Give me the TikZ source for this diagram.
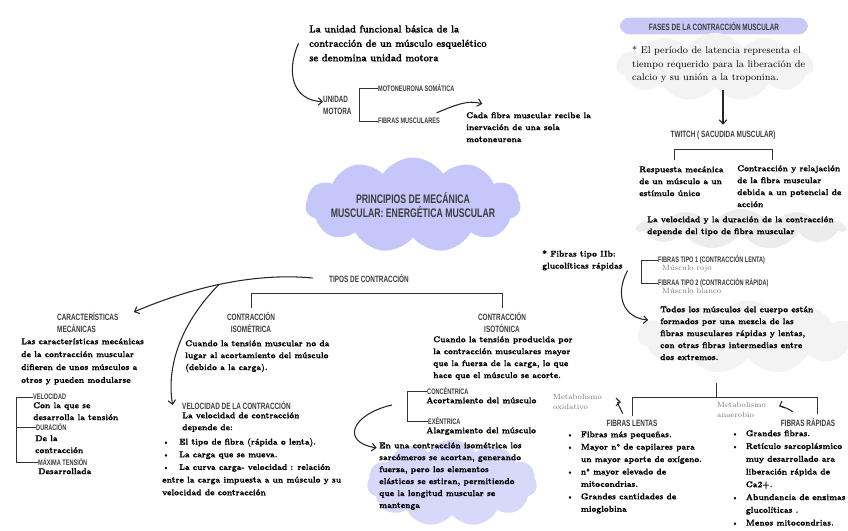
\documentclass[tikz,border=0pt]{standalone}
\usepackage{fontspec}
\usetikzlibrary{arrows.meta,shapes.symbols}
\newfontfamily\condsans{Liberation Sans}[FakeStretch=0.7]
\newfontfamily\handfont{Latin Modern Roman}[FakeStretch=0.87, FakeBold=0.5]
\definecolor{lavC}{RGB}{197,199,250}
\definecolor{lavP}{RGB}{200,201,247}
\definecolor{lavL}{RGB}{216,216,251}
\definecolor{cldG}{RGB}{243,243,243}
\definecolor{cldM}{RGB}{236,236,236}
\definecolor{hdK}{RGB}{60,60,60}
\definecolor{noteG}{RGB}{115,115,115}
\newcommand{\bodyfnt}{\handfont\fontsize{7.3}{10.2}\selectfont\bfseries}
\newcommand{\introfnt}{\handfont\fontsize{8.8}{12.3}\selectfont\bfseries}
\newcommand{\latfnt}{\fontsize{8.3}{11.5}\selectfont}
\newcommand{\hdfnt}{\condsans\fontsize{7.8}{10.6}\selectfont\bfseries}
\newcommand{\subfnt}{\condsans\fontsize{6.8}{9}\selectfont\bfseries}
\newcommand{\titfnt}{\condsans\fontsize{10.6}{12}\selectfont\bfseries}
\newcommand{\notefnt}{\fontsize{6.5}{8.6}\selectfont}
\newcommand{\bul}{\makebox[12.5pt][l]{\textbullet}}
\newcommand{\bulw}{\makebox[14.5pt][l]{\textbullet}}

\begin{document}
\begin{tikzpicture}[
    x=0.03cm, y=-0.03cm,
    txt/.style={font=\bodyfnt, align=left, anchor=north west, inner sep=0pt},
    hd/.style={font=\hdfnt, text=hdK, inner sep=0pt},
    sub/.style={font=\subfnt, text=hdK, inner sep=0pt, anchor=west},
    gnote/.style={font=\notefnt, text=noteG, align=left, anchor=north west, inner sep=0pt},
    puff/.style={shape=cloud, cloud puffs=11, cloud puff arc=115, cloud ignores aspect, draw=none, inner sep=0pt},
    arr/.style={draw=black!85, line width=0.9pt, -{Straight Barb[length=3.5pt,width=6.5pt]}},
    brk/.style={draw=black!80, line width=0.8pt},
  ]
  \useasboundingbox (0,0) rectangle (848,530);

  %% ================= top centre: the motor unit =================
  \node[txt, font=\introfnt] (intro) at (309,25) {La unidad funcional básica de la\\contracción de un músculo esquelético\\se denomina unidad motora};
  \node[hd, align=left, anchor=north west] (unidad) at (323,96) {UNIDAD\\MOTORA};
  \node[sub] (moto) at (378,88) {MOTONEURONA SOMÁTICA};
  \node[sub] (fibm) at (378,121) {FIBRAS MUSCULARES};
  \node[txt] (cada) at (466,112) {Cada fibra muscular recibe la\\inervación de una sola\\motoneurona};
  \draw[brk] (moto.west) -- ++(-19,0) |- (fibm.west);
  \draw[arr] ([xshift=-9pt]intro.west) .. controls (286,72) and (292,100) .. (unidad.165);
  \draw[arr] ([shift={(-3pt,7pt)}]fibm.east) .. controls (458,104) and (468,100) .. ([shift={(14pt,7pt)}]cada.north west);

  %% ================= centre: the title cloud =================
  \node[puff, fill=lavC, minimum width=6.45cm, minimum height=2.85cm] (titc) at (413,205) {};
  \node[font=\titfnt, text=hdK, align=center, inner sep=0pt] (tit) at (titc.center) {PRINCIPIOS DE MECÁNICA\\MUSCULAR: ENERGÉTICA MUSCULAR};

  %% ================= types of contraction =================
  \node[hd, anchor=west] (tipos) at (329,278) {TIPOS DE CONTRACCIÓN};
  \node[hd, align=center, anchor=north] (isom) at (251,312) {CONTRACCIÓN\\ISOMÉTRICA};
  \node[hd, align=center, anchor=north] (isot) at (502,312) {CONTRACCIÓN\\ISOTÓNICA};
  \draw[brk] ([yshift=3pt]isom.north) -- ++(0,-15) -| ([yshift=3pt]isot.north);
  \node[txt] (isomb) at (185,340) {Cuando la tensión muscular no da\\lugar al acortamiento del músculo\\(debido a la carga).};
  \node[txt] (isotb) at (433,336) {Cuando la tensión producida por\\la contracción musculares mayor\\que la fuerza de la carga, lo que\\hace que el músculo se acorte.};
  \node[sub] (conc) at (427,391) {CONCÉNTRICA};
  \node[txt] (acor) at (426,397) {Acortamiento del músculo};
  \node[sub] (exce) at (428,421) {EXÉNTRICA};
  \node[txt] (alar) at (426,427) {Alargamiento del músculo};
  \draw[brk] (conc.west) -- ++(-20,0) |- (exce.west);

  %% ---- the isometric note ----
  \node[puff, fill=lavL, minimum width=5.1cm, minimum height=2.6cm] (lavc) at (452,483) {};
  \node[txt] (isoc) at (379,442) {En una contracción isométrica los\\sarcómeros se acortan, generando\\fuerza, pero los elementos\\elásticos se estiran, permitiendo\\que la longitud muscular se\\mantenga};
  \draw[arr] ([shift={(-29pt,-4pt)}]acor.west) .. controls (352,414) and (340,442) .. ([shift={(-2pt,-5pt)}]isoc.north west);

  %% ================= left: mechanical characteristics =================
  \node[hd, align=left, anchor=north west] (cara) at (57,312) {CARACTERÍSTICAS\\MECÁNICAS};
  \node[txt, font=\handfont\fontsize{7.3}{11}\selectfont\bfseries] (carb) at (21,338) {Las características mecánicas\\de la contracción muscular\\difieren de unos músculos a\\otros y pueden modularse};
  \node[sub] (velo) at (33,397) {VELOCIDAD};
  \node[txt] (velb) at (33,402) {Con la que se\\desarrolla la tensión};
  \node[sub] (dura) at (36,427) {DURACIÓN};
  \node[txt] (durb) at (35,435) {De la\\contracción};
  \node[sub] (maxt) at (38,462) {MÁXIMA TENSIÓN};
  \node[txt] (maxb) at (38,468) {Desarrollada};
  \draw[brk] (velo.west) -- ++(-17,0) coordinate (cbk) |- (maxt.west);
  \draw[brk] (dura.west) -- (dura.west -| cbk);

  %% ---- speed of contraction ----
  \node[hd, anchor=west] (velc) at (182,405) {VELOCIDAD DE LA CONTRACCIÓN};
  \node[txt] (velcb) at (182,412) {La velocidad de contracción\\depende de:};
  \node[txt, font=\handfont\fontsize{7.3}{10.8}\selectfont\bfseries] (velcl) at (162,438) {\bulw El tipo de fibra (rápida o lenta).\\ \bulw La carga que se mueva.\\ \bulw La curva carga- velocidad : relación\\entre la carga impuesta a un músculo y su\\velocidad de contracción};

  \draw[arr] ([xshift=-14pt]tipos.west) .. controls (250,272) and (185,290) .. ([xshift=13pt]cara.north east) coordinate[pos=0.5] (fork);
  \draw[arr] (fork) .. controls (182,322) and (166,365) .. ([xshift=-8pt]velc.west);

  %% ================= right: phases of contraction =================
  \node[font=\hdfnt, text=hdK, fill=lavP, rounded corners=8pt, minimum width=5.64cm, minimum height=0.5cm, inner sep=0pt] (fases) at (714,26) {FASES DE LA CONTRACCIÓN MUSCULAR};
  \node[puff, fill=cldG, minimum width=5.9cm, minimum height=2.05cm] (latc) at (715,67) {};
  \node[txt, font=\latfnt] (lat) at (632,46) {* El período de latencia representa el\\tiempo requerido para la liberación de\\calcio y su unión a la troponina.};
  \node[hd] (twitch) at (723,135) {TWITCH ( SACUDIDA MUSCULAR)};
  \draw[arr] (twitch.north |- latc.south) ++(0,3) -- ([yshift=5pt]twitch.north);
  \draw[brk] (twitch.south) ++(-49,21) -- ++(0,-11) -- ++(98,0) -- ++(0,11);
  \node[txt] (resp) at (639,166) {Respuesta mecánica\\de un músculo a un\\estímulo único};
  \node[txt] (cont) at (737,165) {Contracción y relajación\\de la fibra muscular\\debida a un potencial de\\acción};
  \node[puff, fill=cldM, minimum width=6.2cm, minimum height=1.2cm] (velfc) at (741,229) {};
  \node[txt] (velf) at (647,216) {La velocidad y la duración de la contracción\\depende del tipo de fibra muscular};

  %% ---- fibre types ----
  \node[txt] (iib) at (542,250) {* Fibras tipo IIb:\\glucolíticas rápidas};
  \node[sub] (ft1) at (658,260) {FIBRAS TIPO 1 (CONTRACCIÓN LENTA)};
  \node[gnote] (rojo) at (662,265) {Músculo rojo};
  \node[sub] (ft2) at (658,283) {FIBRAA TIPO 2 (CONTRACCIÓN RÁPIDA)};
  \node[gnote] (blanco) at (662,288) {Músculo blanco};
  \draw[brk] (ft1.west) -- ++(-17,0) |- (ft2.west);
  \node[puff, fill=cldG, minimum width=6.6cm, minimum height=2.2cm] (todc) at (748,337) {};
  \node[txt] (tod) at (660,306) {Todos los músculos del cuerpo están\\formados por una mezcla de las\\fibras musculares rápidas y lentas,\\con otras fibras intermedias entre\\dos extremos.};
  \draw[arr] ([xshift=4pt]iib.south east) .. controls (614,296) and (624,318) .. ([shift={(-10pt,-12pt)}]tod.north west);

  %% ---- slow and fast fibres ----
  \node[hd] (lent) at (632,423) {FIBRAS LENTAS};
  \node[hd] (rapi) at (808,422) {FIBRAS RÁPIDAS};
  \draw[brk] ([yshift=3pt]lent.north) -- ++(0,-19) coordinate (lbk) -| ([shift={(8pt,3pt)}]rapi.north);
  \draw[brk] (lbk) ++(84,0) -- ++(0,-14);
  \node[gnote] (mox) at (553,394) {Metabolismo\\oxidativo};
  \node[gnote] (man) at (717,402) {Metabolismo\\anaerobio};
  \draw[arr] ([shift={(-8pt,5pt)}]lent.north) .. controls (620,406) and (615,402) .. ([xshift=16pt]mox.east);
  \draw[arr] ([shift={(-13pt,5pt)}]rapi.north) .. controls (786,407) and (780,406) .. ([shift={(11pt,3pt)}]man.east);
  \node[txt, font=\handfont\fontsize{7.3}{10.6}\selectfont\bfseries] (lenl) at (566,431) {\bul Fibras más pequeñas.\\ \bul Mayor n° de capilares para\\ \hspace*{12.5pt}un mayor aporte de oxígeno.\\ \bul n° mayor elevado de\\ \hspace*{12.5pt}mitocondrias.\\ \bul Grandes cantidades de\\ \hspace*{12.5pt}mioglobina};
  \node[txt, font=\handfont\fontsize{7.3}{10.9}\selectfont\bfseries] (rapl) at (731,430) {\bul Grandes fibras.\\ \bul Retículo sarcoplásmico\\ \hspace*{12.5pt}muy desarrollado ara\\ \hspace*{12.5pt}liberación rápida de\\ \hspace*{12.5pt}Ca2+.\\ \bul Abundancia de enzimas\\ \hspace*{12.5pt}glucolíticas .\\ \bul Menos mitocondrias.};

\end{tikzpicture}
\end{document}
